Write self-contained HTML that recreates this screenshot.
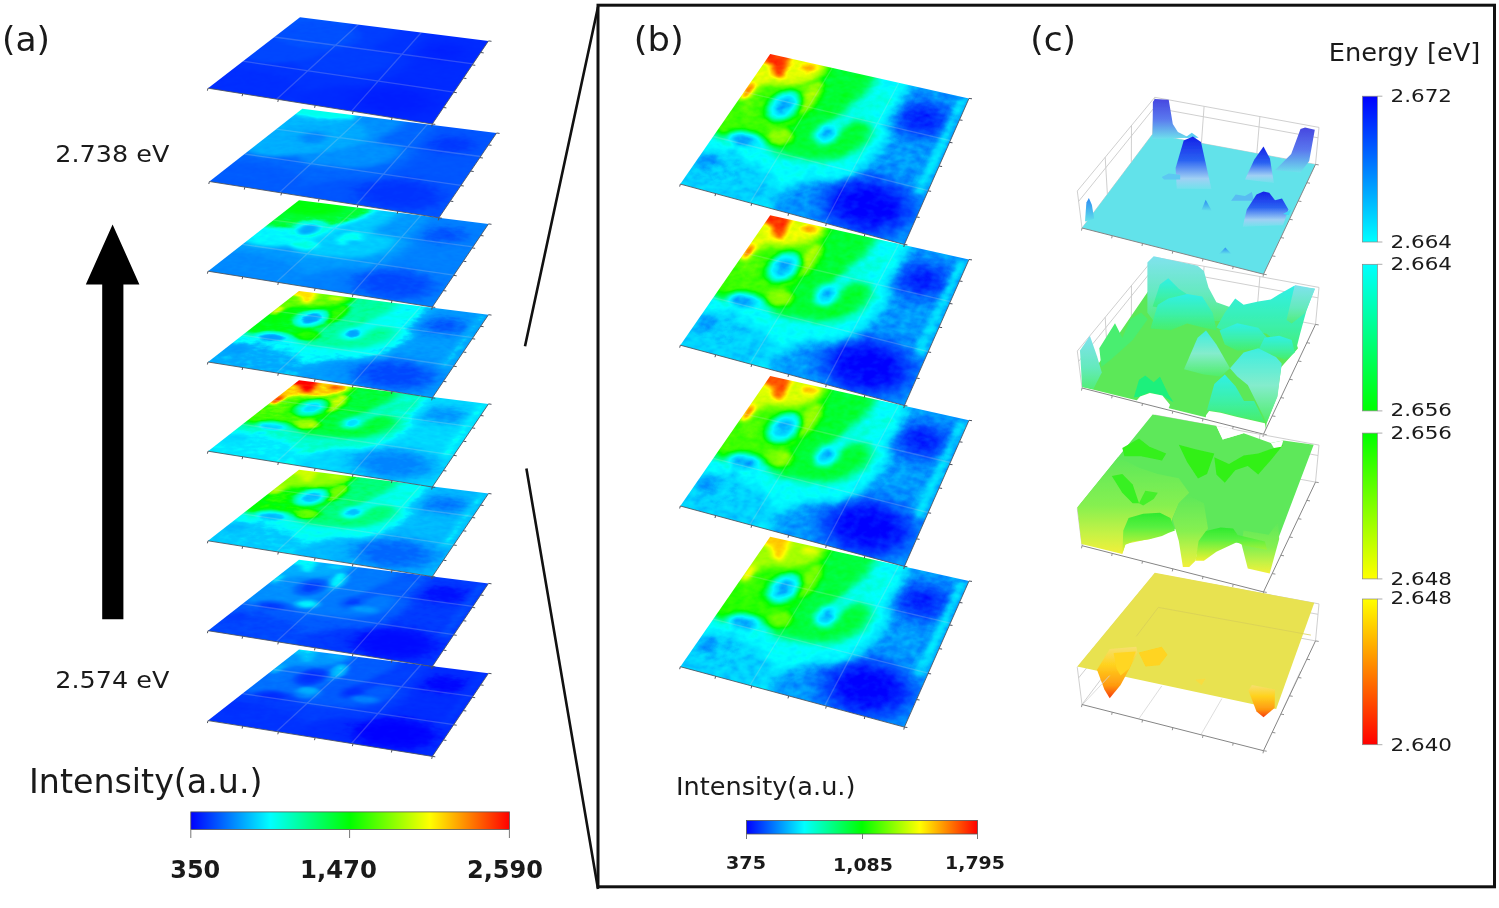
<!DOCTYPE html>
<html><head><meta charset="utf-8"><title>Figure</title>
<style>
html,body{margin:0;padding:0;background:#fff;}
body{width:1499px;height:908px;position:relative;overflow:hidden;font-family:"DejaVu Sans","Liberation Sans",sans-serif;}
.pl{position:absolute;left:0;top:0;width:300px;height:300px;transform-origin:0 0;overflow:hidden;}
.pl svg{display:block}
#ov{position:absolute;left:0;top:0;}
#defs{position:absolute;width:0;height:0;}
text{font-family:"DejaVu Sans","Liberation Sans",sans-serif;fill:#1a1a1a}
</style></head><body>

<svg id="defs" width="0" height="0"><defs>
<filter id="fa0" x="0" y="0" width="100" height="100" filterUnits="userSpaceOnUse" color-interpolation-filters="sRGB"><feTurbulence type="fractalNoise" baseFrequency="0.25" numOctaves="2" seed="1" result="n"/><feColorMatrix in="n" type="matrix" values="1 0 0 0 0 1 0 0 0 0 1 0 0 0 0 0 0 0 0 1" result="n2"/><feComposite in="SourceGraphic" in2="n2" operator="arithmetic" k1="0" k2="1" k3="0.07" k4="-0.035"/><feComponentTransfer><feFuncR type="table" tableValues="0 0 0 0 0 0 0 0 0 0 0 0 0 0 0 0 0 0 0 0 0 0 0 0 0 0 0 0 0 0 0 0 0 0 0 0 0 0 0 0 0 0 0 0 0 0 0 0 0 0 0 0 0 0 0 0 0 0 0 0 0 0 0 0 0"/><feFuncG type="table" tableValues="0.12 0.126 0.133 0.139 0.144 0.149 0.155 0.16 0.164 0.168 0.172 0.175 0.179 0.184 0.19 0.195 0.2 0.203 0.206 0.209 0.212 0.216 0.219 0.222 0.225 0.228 0.231 0.234 0.237 0.241 0.247 0.253 0.258 0.264 0.27 0.275 0.28 0.28 0.28 0.285 0.292 0.3 0.308 0.316 0.324 0.332 0.339 0.344 0.348 0.352 0.356 0.36 0.364 0.368 0.372 0.376 0.38 0.385 0.389 0.393 0.397 0.4 0.4 0.4 0.4"/><feFuncB type="table" tableValues="1 1 1 1 1 1 1 1 1 1 1 1 1 1 1 1 1 1 1 1 1 1 1 1 1 1 1 1 1 1 1 1 1 1 1 1 1 1 1 1 1 1 1 1 1 1 1 1 1 1 1 1 1 1 1 1 1 1 1 1 1 1 1 1 1"/></feComponentTransfer></filter>
<filter id="fa1" x="0" y="0" width="100" height="100" filterUnits="userSpaceOnUse" color-interpolation-filters="sRGB"><feTurbulence type="fractalNoise" baseFrequency="0.25" numOctaves="2" seed="2" result="n"/><feColorMatrix in="n" type="matrix" values="1 0 0 0 0 1 0 0 0 0 1 0 0 0 0 0 0 0 0 1" result="n2"/><feComposite in="SourceGraphic" in2="n2" operator="arithmetic" k1="0" k2="1" k3="0.07" k4="-0.035"/><feComponentTransfer><feFuncR type="table" tableValues="0 0 0 0 0 0 0 0 0 0 0 0 0 0 0 0 0 0 0 0 0 0 0 0 0 0 0 0 0 0 0 0 0 0 0 0 0 0 0 0 0 0 0 0 0 0 0 0 0 0 0 0 0 0 0 0 0 0 0 0 0 0 0 0 0"/><feFuncG type="table" tableValues="0.2 0.212 0.225 0.237 0.257 0.277 0.298 0.319 0.328 0.335 0.343 0.351 0.359 0.369 0.379 0.39 0.4 0.413 0.425 0.438 0.45 0.463 0.475 0.488 0.5 0.513 0.525 0.538 0.55 0.563 0.58 0.598 0.615 0.632 0.649 0.666 0.682 0.698 0.714 0.739 0.77 0.802 0.841 0.88 0.919 0.958 0.997 1 1 1 1 1 1 1 1 1 1 1 1 1 1 1 1 1 1"/><feFuncB type="table" tableValues="1 1 1 1 1 1 1 1 1 1 1 1 1 1 1 1 1 1 1 1 1 1 1 1 1 1 1 1 1 1 1 1 1 1 1 1 1 1 1 1 1 1 1 1 1 1 1 0.985 0.969 0.952 0.936 0.92 0.903 0.887 0.871 0.855 0.838 0.822 0.806 0.789 0.773 0.758 0.745 0.732 0.72"/></feComponentTransfer></filter>
<filter id="fa2" x="0" y="0" width="100" height="100" filterUnits="userSpaceOnUse" color-interpolation-filters="sRGB"><feTurbulence type="fractalNoise" baseFrequency="0.25" numOctaves="2" seed="3" result="n"/><feColorMatrix in="n" type="matrix" values="1 0 0 0 0 1 0 0 0 0 1 0 0 0 0 0 0 0 0 1" result="n2"/><feComposite in="SourceGraphic" in2="n2" operator="arithmetic" k1="0" k2="1" k3="0.07" k4="-0.035"/><feComponentTransfer><feFuncR type="table" tableValues="0 0 0 0 0 0 0 0 0 0 0 0 0 0 0 0 0 0 0 0 0 0 0 0 0 0 0 0 0 0 0 0 0 0 0 0 0 0 0 0 0 0 0 0 0 0 0 0 0 0 0 0 0 0 0 0 0 0.00772 0.0267 0.0458 0.0648 0.085 0.11 0.135 0.16"/><feFuncG type="table" tableValues="0.28 0.305 0.33 0.355 0.385 0.416 0.448 0.479 0.491 0.503 0.515 0.526 0.538 0.553 0.569 0.584 0.6 0.616 0.631 0.647 0.662 0.678 0.694 0.709 0.725 0.741 0.756 0.772 0.788 0.805 0.827 0.85 0.873 0.895 0.918 0.941 0.967 1 1 1 1 1 1 1 1 1 1 1 1 1 1 1 1 1 1 1 1 1 1 1 1 1 1 1 1"/><feFuncB type="table" tableValues="1 1 1 1 1 1 1 1 1 1 1 1 1 1 1 1 1 1 1 1 1 1 1 1 1 1 1 1 1 1 1 1 1 1 1 1 1 0.986 0.939 0.892 0.845 0.795 0.678 0.561 0.444 0.327 0.209 0.182 0.163 0.144 0.125 0.106 0.0874 0.0684 0.0493 0.0303 0.0113 0 0 0 0 0 0 0 0"/></feComponentTransfer></filter>
<filter id="fa3" x="0" y="0" width="100" height="100" filterUnits="userSpaceOnUse" color-interpolation-filters="sRGB"><feTurbulence type="fractalNoise" baseFrequency="0.25" numOctaves="2" seed="4" result="n"/><feColorMatrix in="n" type="matrix" values="1 0 0 0 0 1 0 0 0 0 1 0 0 0 0 0 0 0 0 1" result="n2"/><feComposite in="SourceGraphic" in2="n2" operator="arithmetic" k1="0" k2="1" k3="0.07" k4="-0.035"/><feComponentTransfer><feFuncR type="table" tableValues="0 0 0 0 0 0 0 0 0 0 0 0 0 0 0 0 0 0 0 0 0 0 0 0 0 0 0 0 0 0 0 0 0 0 0 0 0 0 0 0.0281 0.075 0.122 0.177 0.232 0.286 0.341 0.396 0.445 0.494 0.543 0.592 0.641 0.69 0.738 0.787 0.836 0.885 0.934 0.983 1 1 1 1 1 1"/><feFuncG type="table" tableValues="0.28 0.318 0.355 0.393 0.433 0.475 0.517 0.558 0.583 0.606 0.629 0.653 0.676 0.75 0.833 0.917 1 1 1 1 1 1 1 1 1 1 1 1 1 1 1 1 1 1 1 1 1 1 1 1 1 1 1 1 1 1 1 1 1 1 1 1 1 1 1 1 1 1 1 0.968 0.919 0.87 0.82 0.77 0.72"/><feFuncB type="table" tableValues="1 1 1 1 1 1 1 1 1 1 1 1 1 1 1 1 1 0.972 0.944 0.916 0.887 0.859 0.831 0.803 0.775 0.747 0.719 0.691 0.662 0.624 0.545 0.465 0.385 0.306 0.226 0.147 0.075 0.0438 0.0125 0 0 0 0 0 0 0 0 0 0 0 0 0 0 0 0 0 0 0 0 0 0 0 0 0 0"/></feComponentTransfer></filter>
<filter id="fa4" x="0" y="0" width="100" height="100" filterUnits="userSpaceOnUse" color-interpolation-filters="sRGB"><feTurbulence type="fractalNoise" baseFrequency="0.25" numOctaves="2" seed="5" result="n"/><feColorMatrix in="n" type="matrix" values="1 0 0 0 0 1 0 0 0 0 1 0 0 0 0 0 0 0 0 1" result="n2"/><feComposite in="SourceGraphic" in2="n2" operator="arithmetic" k1="0" k2="1" k3="0.07" k4="-0.035"/><feComponentTransfer><feFuncR type="table" tableValues="0 0 0 0 0 0 0 0 0 0 0 0 0 0 0 0 0 0 0 0 0 0 0 0 0 0 0 0 0 0 0 0 0 0.0464 0.115 0.183 0.255 0.349 0.442 0.518 0.58 0.644 0.754 0.863 0.973 1 1 1 1 1 1 1 1 1 1 1 1 1 1 1 1 1 1 1 1"/><feFuncG type="table" tableValues="0.52 0.557 0.595 0.633 0.673 0.715 0.757 0.798 0.823 0.846 0.869 0.893 0.916 0.981 1 1 1 1 1 1 1 1 1 1 1 1 1 1 1 1 1 1 1 1 1 1 1 1 1 1 1 1 1 1 1 0.918 0.809 0.75 0.696 0.641 0.587 0.533 0.478 0.424 0.37 0.315 0.261 0.207 0.152 0.0978 0.0435 0 0 0 0"/><feFuncB type="table" tableValues="1 1 1 1 1 1 1 1 1 1 1 1 1 1 0.946 0.873 0.8 0.756 0.713 0.669 0.625 0.581 0.538 0.494 0.45 0.406 0.363 0.319 0.275 0.226 0.158 0.09 0.0218 0 0 0 0 0 0 0 0 0 0 0 0 0 0 0 0 0 0 0 0 0 0 0 0 0 0 0 0 0 0 0 0"/></feComponentTransfer></filter>
<filter id="fa5" x="0" y="0" width="100" height="100" filterUnits="userSpaceOnUse" color-interpolation-filters="sRGB"><feTurbulence type="fractalNoise" baseFrequency="0.25" numOctaves="2" seed="6" result="n"/><feColorMatrix in="n" type="matrix" values="1 0 0 0 0 1 0 0 0 0 1 0 0 0 0 0 0 0 0 1" result="n2"/><feComposite in="SourceGraphic" in2="n2" operator="arithmetic" k1="0" k2="1" k3="0.07" k4="-0.035"/><feComponentTransfer><feFuncR type="table" tableValues="0 0 0 0 0 0 0 0 0 0 0 0 0 0 0 0 0 0 0 0 0 0 0 0 0 0 0 0 0 0 0 0 0 0 0 0 0.015 0.109 0.203 0.278 0.34 0.401 0.433 0.464 0.495 0.526 0.558 0.575 0.591 0.608 0.624 0.64 0.657 0.673 0.689 0.705 0.722 0.738 0.754 0.771 0.787 0.805 0.83 0.855 0.88"/><feFuncG type="table" tableValues="0.4 0.438 0.475 0.512 0.553 0.595 0.637 0.678 0.703 0.726 0.749 0.773 0.796 0.853 0.915 0.978 1 1 1 1 1 1 1 1 1 1 1 1 1 1 1 1 1 1 1 1 1 1 1 1 1 1 1 1 1 1 1 1 1 1 1 1 1 1 1 1 1 1 1 1 1 1 1 1 1"/><feFuncB type="table" tableValues="1 1 1 1 1 1 1 1 1 1 1 1 1 1 1 1 0.96 0.922 0.885 0.847 0.81 0.772 0.735 0.698 0.66 0.623 0.585 0.547 0.51 0.466 0.398 0.33 0.262 0.194 0.125 0.0573 0 0 0 0 0 0 0 0 0 0 0 0 0 0 0 0 0 0 0 0 0 0 0 0 0 0 0 0 0"/></feComponentTransfer></filter>
<filter id="fa6" x="0" y="0" width="100" height="100" filterUnits="userSpaceOnUse" color-interpolation-filters="sRGB"><feTurbulence type="fractalNoise" baseFrequency="0.25" numOctaves="2" seed="7" result="n"/><feColorMatrix in="n" type="matrix" values="1 0 0 0 0 1 0 0 0 0 1 0 0 0 0 0 0 0 0 1" result="n2"/><feComposite in="SourceGraphic" in2="n2" operator="arithmetic" k1="0" k2="1" k3="0.07" k4="-0.035"/><feComponentTransfer><feFuncR type="table" tableValues="0 0 0 0 0 0 0 0 0 0 0 0 0 0 0 0 0 0 0 0 0 0 0 0 0 0 0 0 0 0 0 0 0 0 0 0 0 0 0 0 0 0 0 0 0 0 0 0 0 0 0 0 0 0 0 0 0 0 0 0 0 0 0 0 0"/><feFuncG type="table" tableValues="0.04 0.0525 0.065 0.0775 0.105 0.136 0.168 0.199 0.215 0.231 0.246 0.262 0.278 0.298 0.318 0.339 0.36 0.369 0.379 0.388 0.397 0.407 0.416 0.426 0.435 0.444 0.454 0.463 0.472 0.482 0.494 0.505 0.516 0.528 0.539 0.55 0.562 0.578 0.594 0.609 0.625 0.64 0.648 0.656 0.664 0.672 0.679 0.698 0.717 0.736 0.755 0.774 0.793 0.812 0.831 0.85 0.869 0.888 0.907 0.926 0.945 0.983 1 1 1"/><feFuncB type="table" tableValues="1 1 1 1 1 1 1 1 1 1 1 1 1 1 1 1 1 1 1 1 1 1 1 1 1 1 1 1 1 1 1 1 1 1 1 1 1 1 1 1 1 1 1 1 1 1 1 1 1 1 1 1 1 1 1 1 1 1 1 1 1 1 0.905 0.792 0.68"/></feComponentTransfer></filter>
<filter id="fa7" x="0" y="0" width="100" height="100" filterUnits="userSpaceOnUse" color-interpolation-filters="sRGB"><feTurbulence type="fractalNoise" baseFrequency="0.25" numOctaves="2" seed="8" result="n"/><feColorMatrix in="n" type="matrix" values="1 0 0 0 0 1 0 0 0 0 1 0 0 0 0 0 0 0 0 1" result="n2"/><feComposite in="SourceGraphic" in2="n2" operator="arithmetic" k1="0" k2="1" k3="0.07" k4="-0.035"/><feComponentTransfer><feFuncR type="table" tableValues="0 0 0 0 0 0 0 0 0 0 0 0 0 0 0 0 0 0 0 0 0 0 0 0 0 0 0 0 0 0 0 0 0 0 0 0 0 0 0 0 0 0 0 0 0 0 0 0 0 0 0 0 0 0 0 0 0 0 0 0 0 0 0 0 0"/><feFuncG type="table" tableValues="0 0.0125 0.025 0.0375 0.065 0.0963 0.128 0.159 0.168 0.175 0.183 0.191 0.199 0.209 0.219 0.23 0.24 0.249 0.259 0.268 0.277 0.287 0.296 0.306 0.315 0.324 0.334 0.343 0.352 0.362 0.374 0.385 0.396 0.408 0.419 0.43 0.442 0.458 0.474 0.489 0.505 0.521 0.536 0.552 0.568 0.583 0.599 0.61 0.621 0.632 0.643 0.653 0.664 0.675 0.686 0.697 0.708 0.719 0.73 0.74 0.751 0.78 0.88 0.98 1"/><feFuncB type="table" tableValues="1 1 1 1 1 1 1 1 1 1 1 1 1 1 1 1 1 1 1 1 1 1 1 1 1 1 1 1 1 1 1 1 1 1 1 1 1 1 1 1 1 1 1 1 1 1 1 1 1 1 1 1 1 1 1 1 1 1 1 1 1 1 1 1 0.92"/></feComponentTransfer></filter>
<filter id="fb0" x="0" y="0" width="100" height="100" filterUnits="userSpaceOnUse" color-interpolation-filters="sRGB"><feTurbulence type="fractalNoise" baseFrequency="0.25" numOctaves="2" seed="11" result="n"/><feColorMatrix in="n" type="matrix" values="1 0 0 0 0 1 0 0 0 0 1 0 0 0 0 0 0 0 0 1" result="n2"/><feComposite in="SourceGraphic" in2="n2" operator="arithmetic" k1="0" k2="1" k3="0.07" k4="-0.035"/><feComponentTransfer><feFuncR type="table" tableValues="0 0 0 0 0 0 0 0 0 0 0 0 0 0 0 0 0 0 0 0 0 0 0 0 0 0 0 0 0 0 0 0 0 0.0625 0.125 0.188 0.25 0.312 0.375 0.438 0.5 0.562 0.625 0.688 0.75 0.812 0.875 0.938 1 1 1 1 1 1 1 1 1 1 1 1 1 1 1 1 1"/><feFuncG type="table" tableValues="0 0.0625 0.125 0.188 0.25 0.312 0.375 0.438 0.515 0.593 0.671 0.749 0.827 0.875 0.917 0.958 1 1 1 1 1 1 1 1 1 1 1 1 1 1 1 1 1 1 1 1 1 1 1 1 1 1 1 1 1 1 1 1 1 0.938 0.875 0.812 0.75 0.688 0.625 0.562 0.5 0.438 0.375 0.312 0.25 0.188 0.125 0.0625 0"/><feFuncB type="table" tableValues="1 1 1 1 1 1 1 1 1 1 1 1 1 1 1 1 1 0.938 0.875 0.812 0.75 0.688 0.625 0.562 0.5 0.438 0.375 0.312 0.25 0.188 0.125 0.0625 0 0 0 0 0 0 0 0 0 0 0 0 0 0 0 0 0 0 0 0 0 0 0 0 0 0 0 0 0 0 0 0 0"/></feComponentTransfer></filter>
<filter id="fb1" x="0" y="0" width="100" height="100" filterUnits="userSpaceOnUse" color-interpolation-filters="sRGB"><feTurbulence type="fractalNoise" baseFrequency="0.25" numOctaves="2" seed="12" result="n"/><feColorMatrix in="n" type="matrix" values="1 0 0 0 0 1 0 0 0 0 1 0 0 0 0 0 0 0 0 1" result="n2"/><feComposite in="SourceGraphic" in2="n2" operator="arithmetic" k1="0" k2="1" k3="0.07" k4="-0.035"/><feComponentTransfer><feFuncR type="table" tableValues="0 0 0 0 0 0 0 0 0 0 0 0 0 0 0 0 0 0 0 0 0 0 0 0 0 0 0 0 0 0 0 0 0 0.0625 0.125 0.188 0.25 0.312 0.375 0.438 0.5 0.562 0.625 0.688 0.75 0.812 0.875 0.938 1 1 1 1 1 1 1 1 1 1 1 1 1 1 1 1 1"/><feFuncG type="table" tableValues="0 0.0625 0.125 0.188 0.25 0.312 0.375 0.438 0.515 0.593 0.671 0.749 0.827 0.875 0.917 0.958 1 1 1 1 1 1 1 1 1 1 1 1 1 1 1 1 1 1 1 1 1 1 1 1 1 1 1 1 1 1 1 1 1 0.938 0.875 0.812 0.75 0.688 0.625 0.562 0.5 0.438 0.375 0.312 0.25 0.188 0.125 0.0625 0"/><feFuncB type="table" tableValues="1 1 1 1 1 1 1 1 1 1 1 1 1 1 1 1 1 0.938 0.875 0.812 0.75 0.688 0.625 0.562 0.5 0.438 0.375 0.312 0.25 0.188 0.125 0.0625 0 0 0 0 0 0 0 0 0 0 0 0 0 0 0 0 0 0 0 0 0 0 0 0 0 0 0 0 0 0 0 0 0"/></feComponentTransfer></filter>
<filter id="fb2" x="0" y="0" width="100" height="100" filterUnits="userSpaceOnUse" color-interpolation-filters="sRGB"><feTurbulence type="fractalNoise" baseFrequency="0.25" numOctaves="2" seed="13" result="n"/><feColorMatrix in="n" type="matrix" values="1 0 0 0 0 1 0 0 0 0 1 0 0 0 0 0 0 0 0 1" result="n2"/><feComposite in="SourceGraphic" in2="n2" operator="arithmetic" k1="0" k2="1" k3="0.07" k4="-0.035"/><feComponentTransfer><feFuncR type="table" tableValues="0 0 0 0 0 0 0 0 0 0 0 0 0 0 0 0 0 0 0 0 0 0 0 0 0 0 0 0 0 0 0 0 0 0.0625 0.125 0.188 0.25 0.312 0.375 0.428 0.475 0.522 0.585 0.647 0.71 0.772 0.835 0.893 0.95 1 1 1 1 1 1 1 1 1 1 1 1 1 1 1 1"/><feFuncG type="table" tableValues="0 0.0625 0.125 0.188 0.25 0.312 0.375 0.438 0.515 0.593 0.671 0.749 0.827 0.875 0.917 0.958 1 1 1 1 1 1 1 1 1 1 1 1 1 1 1 1 1 1 1 1 1 1 1 1 1 1 1 1 1 1 1 1 1 0.993 0.936 0.879 0.822 0.765 0.708 0.651 0.594 0.537 0.48 0.423 0.366 0.307 0.245 0.183 0.12"/><feFuncB type="table" tableValues="1 1 1 1 1 1 1 1 1 1 1 1 1 1 1 1 1 0.938 0.875 0.812 0.75 0.688 0.625 0.562 0.5 0.438 0.375 0.312 0.25 0.188 0.125 0.0625 0 0 0 0 0 0 0 0 0 0 0 0 0 0 0 0 0 0 0 0 0 0 0 0 0 0 0 0 0 0 0 0 0"/></feComponentTransfer></filter>
<filter id="fb3" x="0" y="0" width="100" height="100" filterUnits="userSpaceOnUse" color-interpolation-filters="sRGB"><feTurbulence type="fractalNoise" baseFrequency="0.25" numOctaves="2" seed="14" result="n"/><feColorMatrix in="n" type="matrix" values="1 0 0 0 0 1 0 0 0 0 1 0 0 0 0 0 0 0 0 1" result="n2"/><feComposite in="SourceGraphic" in2="n2" operator="arithmetic" k1="0" k2="1" k3="0.07" k4="-0.035"/><feComponentTransfer><feFuncR type="table" tableValues="0 0 0 0 0 0 0 0 0 0 0 0 0 0 0 0 0 0 0 0 0 0 0 0 0 0 0 0 0 0 0 0 0 0 0.0555 0.112 0.167 0.214 0.261 0.308 0.355 0.402 0.449 0.496 0.542 0.589 0.636 0.675 0.713 0.751 0.789 0.827 0.865 0.903 0.941 0.979 1 1 1 1 1 1 1 1 1"/><feFuncG type="table" tableValues="0 0.0625 0.125 0.188 0.25 0.312 0.375 0.438 0.515 0.593 0.671 0.749 0.827 0.875 0.917 0.958 1 1 1 1 1 1 1 1 1 1 1 1 1 1 1 1 1 1 1 1 1 1 1 1 1 1 1 1 1 1 1 1 1 1 1 1 1 1 1 1 0.983 0.945 0.907 0.868 0.83 0.79 0.74 0.69 0.64"/><feFuncB type="table" tableValues="1 1 1 1 1 1 1 1 1 1 1 1 1 1 1 1 1 0.941 0.881 0.822 0.762 0.703 0.644 0.584 0.525 0.466 0.406 0.347 0.288 0.229 0.172 0.115 0.0582 0.00136 0 0 0 0 0 0 0 0 0 0 0 0 0 0 0 0 0 0 0 0 0 0 0 0 0 0 0 0 0 0 0"/></feComponentTransfer></filter>
<filter id="bl3" x="-20" y="-20" width="140" height="140" filterUnits="userSpaceOnUse" color-interpolation-filters="sRGB"><feGaussianBlur stdDeviation="2.5"/></filter>
<filter id="bl5" x="-20" y="-20" width="140" height="140" filterUnits="userSpaceOnUse" color-interpolation-filters="sRGB"><feGaussianBlur stdDeviation="5.5"/></filter>
<filter id="bl2" x="-20" y="-20" width="140" height="140" filterUnits="userSpaceOnUse" color-interpolation-filters="sRGB"><feGaussianBlur stdDeviation="1.6"/></filter>
<g id="patb"><rect x="-10" y="-10" width="120" height="120" fill="#252525"/><g filter="url(#bl5)"><ellipse cx="79" cy="84" rx="18" ry="16" fill="#000000"/><ellipse cx="84" cy="22" rx="11" ry="12" fill="#050505"/></g><g filter="url(#bl3)"><path d="M-8 -8L71 -8L71 18L70 31L74 39L72 53L68 67L61 75L52 77L48 81L43 86L40 94L43 108L-8 108Z" fill="#404040"/><ellipse cx="10" cy="92" rx="30" ry="17" fill="#303030"/><path d="M-8 -8L55 -8L54 14L50 25L53 33L63 33L66 40L65 50L59 60L51 65L44 66L38 67L32 68L26 64L22 57L17 53L12 54L7 61L-8 64Z" fill="#737373"/><ellipse cx="8" cy="30" rx="25" ry="36" fill="#8f8f8f"/><path d="M-8 -8L30 -8L30 9L24 16L16 21L8 22L3 30L-8 32Z" fill="#b8b8b8"/></g></g><g id="patd" filter="url(#bl2)"><path d="M97.5 2L96.5 70" stroke="#404040" stroke-width="2.4" fill="none"/><path d="M-8 -8L9 -8L12 8L12.5 17L8 15L4 8L-8 5Z" fill="#f2f2f2"/><ellipse cx="1.5" cy="31" rx="1.8" ry="6.5" fill="#f2f2f2"/><ellipse cx="22" cy="4" rx="4" ry="3" fill="#d6d6d6"/><ellipse cx="30.5" cy="25" rx="4" ry="13" fill="#a8a8a8"/><ellipse cx="6" cy="40" rx="4" ry="7" fill="#949494"/><ellipse cx="28" cy="56" rx="6" ry="6" fill="#a3a3a3"/><path d="M47 46L51 34L57 24L64 14" stroke="#474747" stroke-width="7.5" fill="none" stroke-linecap="round"/><ellipse cx="21.5" cy="35" rx="7.5" ry="12" fill="#454545"/><ellipse cx="21.5" cy="35" rx="4" ry="7" fill="#292929"/><ellipse cx="47" cy="46.5" rx="5.5" ry="8.5" fill="#424242"/><ellipse cx="47" cy="46.5" rx="3" ry="5" fill="#292929"/><ellipse cx="14" cy="64" rx="9" ry="6.5" fill="#424242"/><ellipse cx="14" cy="64.5" rx="6" ry="3.8" fill="#262626"/><path d="M12 70L15 90" stroke="#303030" stroke-width="3" fill="none"/><ellipse cx="5" cy="83" rx="4.5" ry="6" fill="#262626"/></g><g id="pat"><use href="#patb"/><use href="#patd"/></g>
<g id="grid" stroke="#c4c8d4" stroke-opacity="0.45" stroke-width="0.5" fill="none"><path d="M32.5 0V100M66 0V100M0 31H100M0 66H100"/></g>
</defs></svg>
<div class="pl" style="transform:matrix3d(0.5159014,-0.08055942,0,-0.0002369812,-0.423254,-0.1787894,0,-0.0005765419,0,0,1,0,299,649.6,0,1)"><svg viewBox="0 0 100 100" width="300" height="300" preserveAspectRatio="none"><g filter="url(#fa7)"><use href="#pat"/><g filter="url(#bl2)"><ellipse cx="31" cy="22" rx="3" ry="9" fill="#f6f6f6" transform="rotate(-12 31 22)"/><ellipse cx="27" cy="52" rx="5" ry="4" fill="#d8d8d8"/><ellipse cx="55" cy="53" rx="7" ry="4" fill="#a2a2a2"/></g></g></svg></div>
<div class="pl" style="transform:matrix3d(0.5159014,-0.05925481,0,-0.0002369812,-0.423254,-0.1269583,0,-0.0005765419,0,0,1,0,299,559.7,0,1)"><svg viewBox="0 0 100 100" width="300" height="300" preserveAspectRatio="none"><g filter="url(#fa6)"><use href="#pat"/><g filter="url(#bl2)"><ellipse cx="30" cy="21" rx="3.2" ry="11" fill="#f4f4f4" transform="rotate(-12 30 21)"/><ellipse cx="28" cy="56" rx="5" ry="4.5" fill="#eee"/><ellipse cx="55" cy="53" rx="7" ry="4" fill="#9a9a9a"/></g></g></svg></div>
<div class="pl" style="transform:matrix3d(0.5159014,-0.0379502,0,-0.0002369812,-0.423254,-0.07512718,0,-0.0005765419,0,0,1,0,299,469.8,0,1)"><svg viewBox="0 0 100 100" width="300" height="300" preserveAspectRatio="none"><g filter="url(#fa5)"><use href="#pat"/></g></svg></div>
<div class="pl" style="transform:matrix3d(0.5159014,-0.01671669,0,-0.0002369812,-0.423254,-0.02346902,0,-0.0005765419,0,0,1,0,299,380.2,0,1)"><svg viewBox="0 0 100 100" width="300" height="300" preserveAspectRatio="none"><g filter="url(#fa4)"><use href="#pat"/></g></svg></div>
<div class="pl" style="transform:matrix3d(0.5159014,0.004422029,0,-0.0002369812,-0.423254,0.02795851,0,-0.0005765419,0,0,1,0,299,291,0,1)"><svg viewBox="0 0 100 100" width="300" height="300" preserveAspectRatio="none"><g filter="url(#fa3)"><use href="#pat"/></g></svg></div>
<div class="pl" style="transform:matrix3d(0.5159014,0.02593992,0,-0.0002369812,-0.423254,0.08030851,0,-0.0005765419,0,0,1,0,299,200.2,0,1)"><svg viewBox="0 0 100 100" width="300" height="300" preserveAspectRatio="none"><g filter="url(#fa2)"><use href="#patb"/><g filter="url(#bl3)"><ellipse cx="0" cy="0" rx="42" ry="42" fill="#b8b8b8"/><ellipse cx="8" cy="6" rx="18" ry="14" fill="#d8d8d8"/></g><g filter="url(#bl2)"><ellipse cx="21" cy="36" rx="9" ry="12" fill="#a0a0a0"/><ellipse cx="21" cy="38" rx="4.5" ry="7" fill="#505050"/><ellipse cx="27" cy="57" rx="7" ry="6" fill="#9a9a9a"/><ellipse cx="44" cy="42" rx="6" ry="9" fill="#969696"/><ellipse cx="47" cy="47" rx="2.5" ry="4" fill="#686868"/></g></g></svg></div>
<div class="pl" style="transform:matrix3d(0.5325411,0.0498336,0,-0.0002318275,-0.4289287,0.1389615,0,-0.0005695415,0,0,1,0,302.3,108.8,0,1)"><svg viewBox="0 0 100 100" width="300" height="300" preserveAspectRatio="none"><g filter="url(#fa1)"><use href="#patb"/><g filter="url(#bl3)"><ellipse cx="15" cy="30" rx="30" ry="26" fill="#909090" fill-opacity="0.8"/><ellipse cx="10" cy="2" rx="17" ry="8" fill="#c8c8c8"/><ellipse cx="21" cy="36" rx="6" ry="8" fill="#6a6a6a"/></g></g></svg></div>
<div class="pl" style="transform:matrix3d(0.5153908,0.06954381,0,-0.0002312027,-0.4293773,0.1846326,0,-0.0005899551,0,0,1,0,300,17.2,0,1)"><svg viewBox="0 0 100 100" width="300" height="300" preserveAspectRatio="none"><g filter="url(#fa0)"><use href="#patb"/><g filter="url(#bl3)"><ellipse cx="18" cy="22" rx="22" ry="20" fill="#aaa"/></g></g></svg></div>
<div class="pl" style="transform:matrix3d(0.4793282,0.03773926,0,-0.0001892038,-0.5927813,0.1460785,0,-0.0004308608,0,0,1,0,770.2,536.7,0,1)"><svg viewBox="0 0 100 100" width="300" height="300" preserveAspectRatio="none"><g filter="url(#fb3)"><use href="#pat"/></g></svg></div>
<div class="pl" style="transform:matrix3d(0.4793282,0.06814431,0,-0.0001892038,-0.5927813,0.2153178,0,-0.0004308608,0,0,1,0,770.2,376,0,1)"><svg viewBox="0 0 100 100" width="300" height="300" preserveAspectRatio="none"><g filter="url(#fb2)"><use href="#pat"/></g></svg></div>
<div class="pl" style="transform:matrix3d(0.4793282,0.09856828,0,-0.0001892038,-0.5927813,0.2846002,0,-0.0004308608,0,0,1,0,770.2,215.2,0,1)"><svg viewBox="0 0 100 100" width="300" height="300" preserveAspectRatio="none"><g filter="url(#fb1)"><use href="#pat"/></g></svg></div>
<div class="pl" style="transform:matrix3d(0.4793282,0.129049,0,-0.0001892038,-0.5927813,0.3540119,0,-0.0004308608,0,0,1,0,770.2,54.1,0,1)"><svg viewBox="0 0 100 100" width="300" height="300" preserveAspectRatio="none"><g filter="url(#fb0)"><use href="#pat"/></g></svg></div>
<svg id="ov" width="1499" height="908" viewBox="0 0 1499 908">
<defs>
<linearGradient id="cbH" x1="0" x2="1" y1="0" y2="0"><stop offset="0" stop-color="#0000ff"/><stop offset="0.25" stop-color="#00ffff"/><stop offset="0.5" stop-color="#00ff00"/><stop offset="0.75" stop-color="#ffff00"/><stop offset="1" stop-color="#ff0000"/></linearGradient>
<linearGradient id="cb1" x1="0" x2="0" y1="0" y2="1"><stop offset="0" stop-color="#0000ff"/><stop offset="1" stop-color="#00ffff"/></linearGradient>
<linearGradient id="cb2" x1="0" x2="0" y1="0" y2="1"><stop offset="0" stop-color="#00ffff"/><stop offset="1" stop-color="#00ff00"/></linearGradient>
<linearGradient id="cb3" x1="0" x2="0" y1="0" y2="1"><stop offset="0" stop-color="#00ff00"/><stop offset="1" stop-color="#ffff00"/></linearGradient>
<linearGradient id="cb4" x1="0" x2="0" y1="0" y2="1"><stop offset="0" stop-color="#ffff00"/><stop offset="1" stop-color="#ff0000"/></linearGradient>
</defs>

<path d="M358.3 24.5L276.6 99.2M421.3 32.5L351.5 111.1M274.3 37.0L473.0 63.8M242.9 61.2L453.9 92.1" stroke="#dcdcdc" stroke-opacity="0.22" stroke-width="1.3" fill="none"/><path d="M208.0 88.2L432.3 124.0L488.5 40.9" fill="none" stroke="#4c515c" stroke-width="0.85"/><path d="M208.0 88.2l-0.6 2.5M488.5 40.9l3 0.4M242.7 93.7l-0.6 2.5M480.7 52.5l3 0.4M278.4 99.4l-0.6 2.5M472.3 64.9l3 0.4M315.2 105.3l-0.6 2.5M463.4 78.1l3 0.4M353.1 111.4l-0.6 2.5M453.8 92.3l3 0.4M392.1 117.6l-0.6 2.5M443.4 107.5l3 0.4M432.3 124.0l-0.6 2.5M432.3 124.0l3 0.4" stroke="#4c515c" stroke-width="1" fill="none"/>
<path d="M362.4 116.3L279.6 192.6M427.4 124.4L356.3 204.7M276.2 129.2L480.6 156.5M244.5 154.0L460.9 185.4" stroke="#dcdcdc" stroke-opacity="0.22" stroke-width="1.3" fill="none"/><path d="M209.4 181.5L438.9 217.8L496.6 133.0" fill="none" stroke="#4c515c" stroke-width="0.85"/><path d="M209.4 181.5l-0.6 2.5M496.6 133.0l3 0.4M244.9 187.1l-0.6 2.5M488.5 144.9l3 0.4M281.5 192.9l-0.6 2.5M479.9 157.6l3 0.4M319.1 198.9l-0.6 2.5M470.7 171.1l3 0.4M357.9 205.0l-0.6 2.5M460.8 185.6l3 0.4M397.8 211.3l-0.6 2.5M450.3 201.1l3 0.4M438.9 217.8l-0.6 2.5M438.9 217.8l3 0.4" stroke="#4c515c" stroke-width="1" fill="none"/>
<path d="M357.6 207.5L276.5 282.1M420.9 215.4L351.5 294.1M273.5 220.1L472.9 246.9M242.4 244.3L453.8 275.2" stroke="#dcdcdc" stroke-opacity="0.22" stroke-width="1.3" fill="none"/><path d="M208.0 271.2L432.3 307.0L488.5 223.9" fill="none" stroke="#4c515c" stroke-width="0.85"/><path d="M208.0 271.2l-0.6 2.5M488.5 223.9l3 0.4M242.7 276.7l-0.6 2.5M480.6 235.5l3 0.4M278.4 282.4l-0.6 2.5M472.2 247.9l3 0.4M315.1 288.3l-0.6 2.5M463.3 261.2l3 0.4M353.0 294.3l-0.6 2.5M453.7 275.4l3 0.4M392.0 300.6l-0.6 2.5M443.4 290.6l3 0.4M432.3 307.0l-0.6 2.5M432.3 307.0l3 0.4" stroke="#4c515c" stroke-width="1" fill="none"/>
<path d="M357.6 298.3L276.5 372.9M420.9 306.2L351.5 384.9M273.5 310.9L472.9 337.7M242.4 335.1L453.8 366.0" stroke="#dcdcdc" stroke-opacity="0.22" stroke-width="1.3" fill="none"/><path d="M208.0 362.0L432.3 397.8L488.5 314.7" fill="none" stroke="#4c515c" stroke-width="0.85"/><path d="M208.0 362.0l-0.6 2.5M488.5 314.7l3 0.4M242.7 367.5l-0.6 2.5M480.6 326.3l3 0.4M278.4 373.2l-0.6 2.5M472.2 338.7l3 0.4M315.1 379.1l-0.6 2.5M463.3 352.0l3 0.4M353.0 385.1l-0.6 2.5M453.7 366.2l3 0.4M392.0 391.4l-0.6 2.5M443.4 381.4l3 0.4M432.3 397.8l-0.6 2.5M432.3 397.8l3 0.4" stroke="#4c515c" stroke-width="1" fill="none"/>
<path d="M357.6 387.5L276.5 462.1M420.9 395.4L351.5 474.1M273.5 400.1L472.9 426.9M242.4 424.3L453.8 455.2" stroke="#dcdcdc" stroke-opacity="0.22" stroke-width="1.3" fill="none"/><path d="M208.0 451.2L432.3 487.0L488.5 403.9" fill="none" stroke="#4c515c" stroke-width="0.85"/><path d="M208.0 451.2l-0.6 2.5M488.5 403.9l3 0.4M242.7 456.7l-0.6 2.5M480.6 415.5l3 0.4M278.4 462.4l-0.6 2.5M472.2 427.9l3 0.4M315.1 468.3l-0.6 2.5M463.3 441.2l3 0.4M353.0 474.3l-0.6 2.5M453.7 455.4l3 0.4M392.0 480.6l-0.6 2.5M443.4 470.6l3 0.4M432.3 487.0l-0.6 2.5M432.3 487.0l3 0.4" stroke="#4c515c" stroke-width="1" fill="none"/>
<path d="M357.6 477.1L276.5 551.7M420.9 485.0L351.5 563.7M273.5 489.7L472.9 516.5M242.4 513.9L453.8 544.8" stroke="#dcdcdc" stroke-opacity="0.22" stroke-width="1.3" fill="none"/><path d="M208.0 540.8L432.3 576.6L488.5 493.5" fill="none" stroke="#4c515c" stroke-width="0.85"/><path d="M208.0 540.8l-0.6 2.5M488.5 493.5l3 0.4M242.7 546.3l-0.6 2.5M480.6 505.1l3 0.4M278.4 552.0l-0.6 2.5M472.2 517.5l3 0.4M315.1 557.9l-0.6 2.5M463.3 530.8l3 0.4M353.0 563.9l-0.6 2.5M453.7 545.0l3 0.4M392.0 570.2l-0.6 2.5M443.4 560.2l3 0.4M432.3 576.6l-0.6 2.5M432.3 576.6l3 0.4" stroke="#4c515c" stroke-width="1" fill="none"/>
<path d="M357.6 567.0L276.5 641.6M420.9 574.9L351.5 653.6M273.5 579.6L472.9 606.4M242.4 603.8L453.8 634.7" stroke="#dcdcdc" stroke-opacity="0.22" stroke-width="1.3" fill="none"/><path d="M208.0 630.7L432.3 666.5L488.5 583.4" fill="none" stroke="#4c515c" stroke-width="0.85"/><path d="M208.0 630.7l-0.6 2.5M488.5 583.4l3 0.4M242.7 636.2l-0.6 2.5M480.6 595.0l3 0.4M278.4 641.9l-0.6 2.5M472.2 607.4l3 0.4M315.1 647.8l-0.6 2.5M463.3 620.7l3 0.4M353.0 653.8l-0.6 2.5M453.7 634.9l3 0.4M392.0 660.1l-0.6 2.5M443.4 650.1l3 0.4M432.3 666.5l-0.6 2.5M432.3 666.5l3 0.4" stroke="#4c515c" stroke-width="1" fill="none"/>
<path d="M357.6 656.9L276.5 731.5M420.9 664.8L351.5 743.5M273.5 669.5L472.9 696.3M242.4 693.7L453.8 724.6" stroke="#dcdcdc" stroke-opacity="0.22" stroke-width="1.3" fill="none"/><path d="M208.0 720.6L432.3 756.4L488.5 673.3" fill="none" stroke="#4c515c" stroke-width="0.85"/><path d="M208.0 720.6l-0.6 2.5M488.5 673.3l3 0.4M242.7 726.1l-0.6 2.5M480.6 684.9l3 0.4M278.4 731.8l-0.6 2.5M472.2 697.3l3 0.4M315.1 737.7l-0.6 2.5M463.3 710.6l3 0.4M353.0 743.7l-0.6 2.5M453.7 724.8l3 0.4M392.0 750.0l-0.6 2.5M443.4 740.0l3 0.4M432.3 756.4l-0.6 2.5M432.3 756.4l3 0.4" stroke="#4c515c" stroke-width="1" fill="none"/>
<path d="M832.3 67.9L749.9 202.8M898.8 82.8L824.8 223.0M744.1 91.9L950.3 140.6M713.2 136.5L928.2 190.6" stroke="#dcdcdc" stroke-opacity="0.22" stroke-width="1.3" fill="none"/><path d="M680.3 184.1L904.4 244.5L969.0 98.4" fill="none" stroke="#4c515c" stroke-width="0.85"/><path d="M680.3 184.1l-0.6 2.5M969.0 98.4l3 0.4M715.6 193.6l-0.6 2.5M959.5 119.9l3 0.4M751.7 203.3l-0.6 2.5M949.5 142.4l3 0.4M788.6 213.3l-0.6 2.5M939.1 166.1l3 0.4M826.3 223.5l-0.6 2.5M928.1 190.9l3 0.4M864.9 233.9l-0.6 2.5M916.6 217.0l3 0.4M904.4 244.5l-0.6 2.5M904.4 244.5l3 0.4" stroke="#4c515c" stroke-width="1" fill="none"/>
<path d="M832.3 229.0L749.9 363.9M898.8 243.9L824.8 384.1M744.1 253.0L950.3 301.7M713.2 297.6L928.2 351.7" stroke="#dcdcdc" stroke-opacity="0.22" stroke-width="1.3" fill="none"/><path d="M680.3 345.2L904.4 405.6L969.0 259.5" fill="none" stroke="#4c515c" stroke-width="0.85"/><path d="M680.3 345.2l-0.6 2.5M969.0 259.5l3 0.4M715.6 354.7l-0.6 2.5M959.5 281.0l3 0.4M751.7 364.4l-0.6 2.5M949.5 303.5l3 0.4M788.6 374.4l-0.6 2.5M939.1 327.2l3 0.4M826.3 384.6l-0.6 2.5M928.1 352.0l3 0.4M864.9 395.0l-0.6 2.5M916.6 378.1l3 0.4M904.4 405.6l-0.6 2.5M904.4 405.6l3 0.4" stroke="#4c515c" stroke-width="1" fill="none"/>
<path d="M832.3 389.8L749.9 524.7M898.8 404.7L824.8 544.9M744.1 413.8L950.3 462.5M713.2 458.4L928.2 512.5" stroke="#dcdcdc" stroke-opacity="0.22" stroke-width="1.3" fill="none"/><path d="M680.3 506.0L904.4 566.4L969.0 420.3" fill="none" stroke="#4c515c" stroke-width="0.85"/><path d="M680.3 506.0l-0.6 2.5M969.0 420.3l3 0.4M715.6 515.5l-0.6 2.5M959.5 441.8l3 0.4M751.7 525.2l-0.6 2.5M949.5 464.3l3 0.4M788.6 535.2l-0.6 2.5M939.1 488.0l3 0.4M826.3 545.4l-0.6 2.5M928.1 512.8l3 0.4M864.9 555.8l-0.6 2.5M916.6 538.9l3 0.4M904.4 566.4l-0.6 2.5M904.4 566.4l3 0.4" stroke="#4c515c" stroke-width="1" fill="none"/>
<path d="M832.3 550.5L749.9 685.4M898.8 565.4L824.8 705.6M744.1 574.5L950.3 623.2M713.2 619.1L928.2 673.2" stroke="#dcdcdc" stroke-opacity="0.22" stroke-width="1.3" fill="none"/><path d="M680.3 666.7L904.4 727.1L969.0 581.0" fill="none" stroke="#4c515c" stroke-width="0.85"/><path d="M680.3 666.7l-0.6 2.5M969.0 581.0l3 0.4M715.6 676.2l-0.6 2.5M959.5 602.5l3 0.4M751.7 685.9l-0.6 2.5M949.5 625.0l3 0.4M788.6 695.9l-0.6 2.5M939.1 648.7l3 0.4M826.3 706.1l-0.6 2.5M928.1 673.5l3 0.4M864.9 716.5l-0.6 2.5M916.6 699.6l3 0.4M904.4 727.1l-0.6 2.5M904.4 727.1l3 0.4" stroke="#4c515c" stroke-width="1" fill="none"/>
<!-- box and connector lines -->
<rect x="598" y="5.2" width="896.5" height="881.6" fill="none" stroke="#111" stroke-width="3"/>
<path d="M598 7L525 346.3M526.4 468.5L598 889" stroke="#111" stroke-width="2.6" fill="none"/>
<!-- arrow -->
<path d="M112.6 224.5L139.4 284.4H123.4V619.3H102.2V284.4H85.8Z" fill="#000"/>
<!-- labels -->
<text x="2" y="51.2" font-size="34" textLength="48" lengthAdjust="spacingAndGlyphs">(a)</text>
<text x="633.8" y="51.2" font-size="34" textLength="50" lengthAdjust="spacingAndGlyphs">(b)</text>
<text x="1030.3" y="51.2" font-size="34" textLength="45.7" lengthAdjust="spacingAndGlyphs">(c)</text>
<text x="55.3" y="161.8" font-size="23.6" textLength="114" lengthAdjust="spacingAndGlyphs">2.738 eV</text>
<text x="55.3" y="688.3" font-size="23.6" textLength="114" lengthAdjust="spacingAndGlyphs">2.574 eV</text>
<text x="29" y="793" font-size="34.3" textLength="233.5" lengthAdjust="spacingAndGlyphs">Intensity(a.u.)</text>
<text x="676" y="794.8" font-size="25" textLength="179.5" lengthAdjust="spacingAndGlyphs">Intensity(a.u.)</text>
<text x="1328.8" y="61.3" font-size="25" textLength="151.5" lengthAdjust="spacingAndGlyphs">Energy [eV]</text>
<!-- colorbar a -->
<rect x="190.8" y="811.9" width="318.6" height="17.6" fill="url(#cbH)" stroke="#555" stroke-width="0.8"/>
<path d="M190.8 829.5V838M349.6 829.5V838M509.4 829.5V838" stroke="#777" stroke-width="1"/>
<g font-weight="bold" font-size="24" fill="#111">
<text x="170.3" y="877.5" textLength="50" lengthAdjust="spacingAndGlyphs">350</text>
<text x="300" y="877.5" textLength="77" lengthAdjust="spacingAndGlyphs">1,470</text>
<text x="467" y="877.5" textLength="76" lengthAdjust="spacingAndGlyphs">2,590</text>
</g>
<!-- colorbar b -->
<rect x="746.5" y="820.5" width="231" height="13.5" fill="url(#cbH)" stroke="#555" stroke-width="0.8"/>
<path d="M746.5 834V839M862.5 834V839M977.5 834V839" stroke="#777" stroke-width="1"/>
<g font-weight="bold" font-size="17" fill="#111">
<text x="726" y="869" textLength="40" lengthAdjust="spacingAndGlyphs">375</text>
<text x="833" y="871" textLength="60" lengthAdjust="spacingAndGlyphs">1,085</text>
<text x="945" y="869" textLength="60" lengthAdjust="spacingAndGlyphs">1,795</text>
</g>
<!-- colorbars c -->
<g stroke="#888" stroke-width="0.7">
<rect x="1362.4" y="96.2" width="15" height="145.8" fill="url(#cb1)"/>
<rect x="1362.4" y="264.3" width="15" height="146.6" fill="url(#cb2)"/>
<rect x="1362.4" y="433.1" width="15" height="145.8" fill="url(#cb3)"/>
<rect x="1362.4" y="599" width="15" height="145.7" fill="url(#cb4)"/>
<path d="M1377.4 96.2h5M1377.4 242h5M1377.4 264.3h5M1377.4 410.9h5M1377.4 433.1h5M1377.4 578.9h5M1377.4 599h5M1377.4 744.7h5" fill="none"/>
</g>
<g font-size="17.5" fill="#222">
<text x="1390.5" y="101.6" textLength="61.5" lengthAdjust="spacingAndGlyphs">2.672</text>
<text x="1390.5" y="247.8" textLength="61.5" lengthAdjust="spacingAndGlyphs">2.664</text>
<text x="1390.5" y="270" textLength="61.5" lengthAdjust="spacingAndGlyphs">2.664</text>
<text x="1390.5" y="416.3" textLength="61.5" lengthAdjust="spacingAndGlyphs">2.656</text>
<text x="1390.5" y="438.6" textLength="61.5" lengthAdjust="spacingAndGlyphs">2.656</text>
<text x="1390.5" y="584.7" textLength="61.5" lengthAdjust="spacingAndGlyphs">2.648</text>
<text x="1390.5" y="604" textLength="61.5" lengthAdjust="spacingAndGlyphs">2.648</text>
<text x="1390.5" y="750.6" textLength="61.5" lengthAdjust="spacingAndGlyphs">2.640</text>
</g>

<defs>
<linearGradient id="pkB" x1="0" y1="0" x2="0" y2="1"><stop offset="0" stop-color="#1420e8"/><stop offset="0.45" stop-color="#2a62f2"/><stop offset="0.8" stop-color="#a0d0f4"/><stop offset="1" stop-color="#70e2ec"/></linearGradient>
<linearGradient id="pkV" x1="0" y1="0" x2="0" y2="1"><stop offset="0" stop-color="#4646e0"/><stop offset="0.5" stop-color="#5a78ee"/><stop offset="1" stop-color="#6ee0ec"/></linearGradient>
<linearGradient id="pkS" x1="0" y1="0" x2="0" y2="1"><stop offset="0" stop-color="#2a8af4"/><stop offset="1" stop-color="#62e0ea"/></linearGradient>
<linearGradient id="cg" x1="0" y1="0" x2="0" y2="1"><stop offset="0" stop-color="#30f0e6"/><stop offset="0.55" stop-color="#3cf0a8"/><stop offset="1" stop-color="#48ee68"/></linearGradient>
<linearGradient id="cgp" x1="0" y1="0" x2="0" y2="1"><stop offset="0" stop-color="#3ceee0"/><stop offset="0.5" stop-color="#84eccc"/><stop offset="1" stop-color="#50ee68"/></linearGradient>
<linearGradient id="pcg" x1="0" y1="0" x2="0" y2="1"><stop offset="0" stop-color="#80e2ee"/><stop offset="0.6" stop-color="#64eabc"/><stop offset="1" stop-color="#52ee78"/></linearGradient>
<linearGradient id="gy" x1="0" y1="0" x2="0" y2="1"><stop offset="0" stop-color="#5ee85a"/><stop offset="0.5" stop-color="#86f050"/><stop offset="0.8" stop-color="#c8f244"/><stop offset="1" stop-color="#f2f03a"/></linearGradient>
<linearGradient id="dgy" x1="0" y1="0" x2="0" y2="1"><stop offset="0" stop-color="#2eea2e"/><stop offset="0.35" stop-color="#58f040"/><stop offset="1" stop-color="#ecf232"/></linearGradient>
<linearGradient id="pit" x1="0" y1="0" x2="0" y2="1"><stop offset="0" stop-color="#f6e070"/><stop offset="0.35" stop-color="#ffd21e"/><stop offset="0.75" stop-color="#ff9a10"/><stop offset="1" stop-color="#f83c10"/></linearGradient>
<filter id="cb" x="-5%" y="-5%" width="110%" height="110%"><feGaussianBlur stdDeviation="0.7"/></filter>
<filter id="cb2" x="-5%" y="-5%" width="110%" height="110%"><feGaussianBlur stdDeviation="1.4"/></filter>
</defs>
<g id="c1">
<g fill="none" stroke="#c9c9c9" stroke-width="0.9"><path d="M1077.3 191.0L1154.8 97.3L1319.0 127.4"/><path d="M1082.0 228.0L1152.5 134.3L1315.5 164.4"/><path d="M1082.0 228.0L1077.3 191.0M1152.5 134.3L1154.8 97.3M1315.5 164.4L1319.0 127.4"/><path d="M1131.5 125.4L1131.3 162.4"/><path d="M1204.1 106.3L1201.4 143.3"/><path d="M1105.2 157.3L1107.4 194.3"/><path d="M1259.9 116.6L1256.8 153.6"/><path d="M1078.6 201.4L1154.2 107.7L1318.0 137.8"/></g>
<path d="M1082.0 228.0L1152.5 134.3L1315.5 164.4L1263.5 274.2Z" fill="#62e2ea" />
<g filter="url(#cb)">
<path d="M1152.5 139.0L1152.9 102.0L1154.8 99.0L1168.7 99.7L1172.8 123.9L1177.9 132.0L1189.5 137.8Z" fill="url(#pkV)" />
<path d="M1184.9 137.8L1191.8 132.7L1198.7 137.8Z" fill="#5ccdf2" />
<path d="M1176.8 188.7L1175.6 167.9L1183.7 140.6L1192.9 136.6L1201.0 142.0L1205.2 160.9L1211.4 189.1Z" fill="url(#pkB)" />
<path d="M1161.7 177.1L1168.7 173.6L1180.2 174.8L1180.2 179.4L1164.0 179.4Z" fill="#5cc8f2" />
<path d="M1245.0 179.4L1254.2 159.8L1263.5 146.6L1269.9 158.6L1273.9 182.9Z" fill="url(#pkB)" />
<path d="M1275.0 170.2L1291.2 154.0L1300.5 129.0L1305.1 127.4L1314.8 129.7L1309.2 160.9L1300.5 172.5Z" fill="url(#pkV)" />
<path d="M1231.1 200.7L1235.7 194.5L1245.0 196.1L1251.9 192.1L1253.8 200.7Z" fill="#58bcf2" />
<path d="M1242.7 226.8L1246.8 209.5L1256.5 194.5L1263.5 191.4L1269.2 192.8L1275.0 200.2L1282.0 198.4L1288.4 209.5L1283.1 225.2Z" fill="url(#pkB)" />
<path d="M1283.1 214.1L1291.2 209.5L1288.9 215.3Z" fill="#40d8f6" />
<path d="M1085.0 221.5L1086.4 202.5L1088.9 197.9L1091.9 204.9L1094.2 218.7Z" fill="url(#pkS)" />
<path d="M1201.5 209.9L1205.7 199.8L1211.9 210.9Z" fill="url(#pkS)" />
<path d="M1219.1 253.9L1225.3 247.4L1231.6 253.9Z" fill="url(#pkS)" />
</g>
<path d="M1082.0 228.0L1263.5 274.2L1315.5 164.4" fill="none" stroke="#858585" stroke-width="1"/><path d="M1082.0 228.0l-0.5 2.6M1315.5 164.4l3.2 0.5M1112.2 235.7l-0.5 2.6M1306.8 182.7l3.2 0.5M1142.5 243.4l-0.5 2.6M1298.2 201.0l3.2 0.5M1172.8 251.1l-0.5 2.6M1289.5 219.3l3.2 0.5M1203.0 258.8l-0.5 2.6M1280.8 237.6l3.2 0.5M1233.2 266.5l-0.5 2.6M1272.2 255.9l3.2 0.5M1263.5 274.2l-0.5 2.6M1263.5 274.2l3.2 0.5" fill="none" stroke="#858585" stroke-width="0.9"/>
</g>
<g id="c2">
<g fill="none" stroke="#c9c9c9" stroke-width="0.9"><path d="M1077.3 351.0L1154.8 257.3L1319.0 287.4"/><path d="M1082.0 388.0L1152.5 294.3L1315.5 324.4"/><path d="M1082.0 388.0L1077.3 351.0M1152.5 294.3L1154.8 257.3M1315.5 324.4L1319.0 287.4"/><path d="M1131.5 285.4L1131.3 322.4"/><path d="M1204.1 266.3L1201.4 303.3"/><path d="M1105.2 317.3L1107.4 354.3"/><path d="M1259.9 276.6L1256.8 313.6"/><path d="M1078.6 361.4L1154.2 267.7L1318.0 297.8"/></g>
<path d="M1082.5 387.0L1147.8 291.8L1287.5 319.0L1298.0 348.3L1281.3 367.1L1277.1 396.4L1266.6 423.6L1265.6 432.0Z" fill="#5ce858" />
<g filter="url(#cb)">
<path d="M1147.4 312.7L1147.4 262.5L1153.7 256.3L1197.6 265.7L1203.9 270.9L1208.5 287.6L1216.4 302.3L1231.1 307.5L1231.1 321.1L1153.7 321.1Z" fill="url(#pcg)" />
<path d="M1152.6 306.5L1159.9 284.5L1168.3 278.2L1178.8 288.7L1188.2 295.0L1195.5 304.4L1187.1 312.7Z" fill="url(#cg)" />
<path d="M1099.3 348.3L1115.0 323.2L1122.3 337.8L1130.7 319.0L1141.1 312.7L1147.8 319.0L1132.7 339.9L1111.8 358.8L1101.4 367.1Z" fill="#48ee70" />
<path d="M1082.1 387.0L1080.0 350.4L1089.9 335.8L1097.2 356.7L1101.8 372.4L1093.4 389.1Z" fill="url(#pcg)" />
<path d="M1216.4 327.4L1224.8 312.7L1235.2 298.5L1243.6 304.8L1258.2 301.5L1270.8 299.4L1279.2 294.3L1293.8 286.0L1314.7 288.7L1306.4 310.7L1300.1 333.7L1295.9 350.4L1287.5 359.2L1279.2 344.1L1266.6 333.7L1245.7 329.5L1229.0 333.7Z" fill="url(#cg)" />
<path d="M1286.5 320.1L1294.8 285.1L1315.1 288.7L1305.3 312.7L1291.7 323.6Z" fill="url(#pcg)" />
<path d="M1150.5 328.4L1157.8 304.8L1168.3 298.5L1187.1 293.9L1202.2 296.4L1212.6 312.7L1216.8 330.5L1203.9 327.8L1187.1 323.6L1170.4 330.3Z" fill="url(#cg)" />
<path d="M1219.6 330.5L1237.3 323.2L1258.2 327.8L1267.7 338.3L1259.3 348.7L1237.3 350.8L1224.8 344.5Z" fill="url(#cg)" />
<path d="M1258.2 350.4L1264.5 337.8L1279.2 335.8L1291.7 339.9L1294.8 352.5L1285.4 359.8L1270.8 354.6Z" fill="url(#cg)" />
<path d="M1184.0 369.2L1197.6 337.8L1206.0 330.5L1216.4 344.5L1230.0 368.2L1220.6 376.5L1203.9 374.5Z" fill="url(#cgp)" />
<path d="M1230.0 368.2L1243.6 352.5L1258.2 348.3L1276.0 357.1L1281.7 363.4L1277.5 396.4L1266.6 422.6L1258.2 405.8L1247.8 384.9L1237.3 376.5Z" fill="url(#cgp)" />
<path d="M1207.0 410.0L1214.3 383.9L1224.8 374.5L1235.7 386.4L1244.0 401.0L1254.1 401.0L1264.9 422.6L1237.3 416.3L1220.6 412.1Z" fill="url(#cg)" />
<path d="M1133.8 397.5L1139.0 379.7L1145.3 375.5L1153.7 382.2L1159.9 376.5L1168.7 394.7L1173.5 402.3L1162.0 395.4L1149.5 392.6L1139.0 396.8Z" fill="#1cf07c" />
</g>
<path d="M1137.3 399.8L1140.1 396.4L1149.9 393.1L1162.4 395.6L1170.0 404.8L1168.3 409.0L1136.5 401.0Z" fill="#fff" />
<path d="M1206.0 415.2L1209.1 411.1L1220.6 412.7L1237.3 416.9L1264.9 423.2L1266.6 434.1L1264.5 434.5L1205.5 419.8Z" fill="#fff" />
<path d="M1082.0 388.0L1263.5 434.2L1315.5 324.4" fill="none" stroke="#858585" stroke-width="1"/><path d="M1082.0 388.0l-0.5 2.6M1315.5 324.4l3.2 0.5M1112.2 395.7l-0.5 2.6M1306.8 342.7l3.2 0.5M1142.5 403.4l-0.5 2.6M1298.2 361.0l3.2 0.5M1172.8 411.1l-0.5 2.6M1289.5 379.3l3.2 0.5M1203.0 418.8l-0.5 2.6M1280.8 397.6l3.2 0.5M1233.2 426.5l-0.5 2.6M1272.2 415.9l3.2 0.5M1263.5 434.2l-0.5 2.6M1263.5 434.2l3.2 0.5" fill="none" stroke="#858585" stroke-width="0.9"/>
</g>
<g id="c3">
<g fill="none" stroke="#c9c9c9" stroke-width="0.9"><path d="M1077.3 508.7L1154.8 415.0L1319.0 445.1"/><path d="M1082.0 545.7L1152.5 452.0L1315.5 482.1"/><path d="M1082.0 545.7L1077.3 508.7M1152.5 452.0L1154.8 415.0M1315.5 482.1L1319.0 445.1"/><path d="M1131.5 443.1L1131.3 480.1"/><path d="M1204.1 424.0L1201.4 461.0"/><path d="M1105.2 475.0L1107.4 512.0"/><path d="M1259.9 434.3L1256.8 471.3"/><path d="M1078.6 519.1L1154.2 425.4L1318.0 455.5"/></g>
<path d="M1152.6 414.4L1216.4 425.9L1222.7 439.5L1243.6 433.2L1270.8 443.1L1283.3 440.6L1313.7 444.7L1278.1 538.9L1266.6 549.3L1077.3 507.5Z" fill="#5ee85a" />
<g filter="url(#cb)">
<path d="M1077.3 507.5L1118.1 457.3L1139.0 467.7L1157.8 474.0L1178.8 478.2L1189.2 492.8L1178.8 503.3L1172.5 517.9L1168.3 532.6L1149.5 538.9L1125.4 544.1L1122.3 553.9L1081.5 544.1Z" fill="url(#gy)" />
<path d="M1172.5 519.0L1178.8 503.3L1187.1 494.9L1203.9 503.3L1208.0 528.4L1199.7 541.0L1195.5 560.8L1189.2 567.1L1182.9 567.1L1178.8 541.0Z" fill="url(#gy)" />
<path d="M1241.5 544.1L1243.6 530.5L1268.7 534.7L1278.1 522.1L1279.2 538.9L1269.7 573.4L1247.8 568.6Z" fill="url(#gy)" />
<path d="M1123.3 530.5L1128.6 517.9L1143.2 513.8L1159.9 512.7L1170.4 517.9L1175.0 530.5L1168.3 533.0L1162.0 535.9L1149.5 539.3L1132.7 541.4L1125.4 544.7L1122.3 553.9Z" fill="url(#dgy)" />
<path d="M1198.6 541.0L1206.0 530.9L1220.6 527.4L1233.1 528.4L1237.7 535.1L1264.9 541.4L1267.0 549.7L1243.6 545.6L1237.3 542.0L1216.4 551.8L1203.9 560.8L1195.5 560.8Z" fill="url(#dgy)" />
<path d="M1122.3 447.9L1139.0 438.5L1149.5 446.8L1166.2 453.5L1162.0 460.4L1141.1 456.2L1124.4 456.2Z" fill="#34f01c" />
<path d="M1178.8 444.7L1195.5 449.3L1214.3 453.5L1207.0 474.0L1198.0 478.6L1187.1 461.9Z" fill="#32f018" />
<path d="M1214.3 457.3L1229.0 464.0L1243.6 455.6L1258.2 453.5L1283.3 444.7L1271.2 459.8L1258.2 474.4L1247.8 466.1L1235.2 470.3L1224.8 482.8L1216.4 474.4Z" fill="#32f018" />
<path d="M1111.8 476.1L1122.3 474.0L1132.7 484.5L1139.0 503.3L1132.7 503.3L1122.3 492.8Z" fill="#38f020" />
<path d="M1139.0 503.3L1145.3 490.8L1157.8 492.8L1153.7 499.1L1143.2 505.4Z" fill="#44f02c" />
</g>
<path d="M1216.4 425.9L1222.7 439.5L1243.6 433.2L1229.0 428.0Z" fill="#fff" />
<path d="M1270.8 443.1L1283.3 440.6L1281.3 446.8L1273.9 447.9Z" fill="#fff" />
<path d="M1082.0 545.7L1263.5 591.9L1315.5 482.1" fill="none" stroke="#858585" stroke-width="1"/><path d="M1082.0 545.7l-0.5 2.6M1315.5 482.1l3.2 0.5M1112.2 553.4l-0.5 2.6M1306.8 500.4l3.2 0.5M1142.5 561.1l-0.5 2.6M1298.2 518.7l3.2 0.5M1172.8 568.8l-0.5 2.6M1289.5 537.0l3.2 0.5M1203.0 576.5l-0.5 2.6M1280.8 555.3l3.2 0.5M1233.2 584.2l-0.5 2.6M1272.2 573.6l3.2 0.5M1263.5 591.9l-0.5 2.6M1263.5 591.9l3.2 0.5" fill="none" stroke="#858585" stroke-width="0.9"/>
</g>
<g id="c4">
<g fill="none" stroke="#c9c9c9" stroke-width="0.9"><path d="M1077.3 667.5L1154.8 573.8L1319.0 603.9"/><path d="M1082.0 704.5L1152.5 610.8L1315.5 640.9"/><path d="M1082.0 704.5L1077.3 667.5M1152.5 610.8L1154.8 573.8M1315.5 640.9L1319.0 603.9"/><path d="M1131.5 601.9L1131.3 638.9"/><path d="M1204.1 582.8L1201.4 619.8"/><path d="M1105.2 633.8L1107.4 670.8"/><path d="M1259.9 593.1L1256.8 630.1"/><path d="M1078.6 677.9L1154.2 584.2L1318.0 614.3"/></g>
<path d="M1154.8 572.7L1314.3 602.8L1276.2 709.1L1077.3 666.4Z" fill="#e8e250" />
<path d="M1136.3 636.3L1158.3 607.4L1310.9 635.1" fill="none" stroke="#d8cf58" stroke-width="0.8"/>
<g filter="url(#cb)">
<path d="M1097.0 669.8L1109.7 649.0L1136.3 646.7L1137.5 652.5L1129.4 668.7L1120.6 684.9L1109.7 698.3L1104.4 689.5Z" fill="url(#pit)" />
<path d="M1113.6 652.9L1135.8 651.6L1129.4 668.2L1120.6 675.6L1116.6 668.7Z" fill="#ffd622" />
<path d="M1138.6 652.5L1161.7 646.7L1167.5 654.8L1159.4 665.2L1145.5 666.4Z" fill="#ffd420" />
<path d="M1248.4 690.6L1251.9 684.9L1275.0 689.5L1274.6 708.0L1263.5 717.2L1256.5 711.4Z" fill="url(#pit)" />
<path d="M1195.3 679.8L1205.7 678.4L1201.5 685.3Z" fill="#f8dc40" />
</g>
<path d="M1138.6 719.1L1161.7 686.0M1201.0 734.6L1221.8 698.7M1082.0 705.2L1109.7 675.6M1282.0 711.4L1300.5 671.0" fill="none" stroke="#d4d4d4" stroke-width="0.8"/>
<path d="M1082.0 704.5L1263.5 750.7L1315.5 640.9" fill="none" stroke="#858585" stroke-width="1"/><path d="M1082.0 704.5l-0.5 2.6M1315.5 640.9l3.2 0.5M1112.2 712.2l-0.5 2.6M1306.8 659.2l3.2 0.5M1142.5 719.9l-0.5 2.6M1298.2 677.5l3.2 0.5M1172.8 727.6l-0.5 2.6M1289.5 695.8l3.2 0.5M1203.0 735.3l-0.5 2.6M1280.8 714.1l3.2 0.5M1233.2 743.0l-0.5 2.6M1272.2 732.4l3.2 0.5M1263.5 750.7l-0.5 2.6M1263.5 750.7l3.2 0.5" fill="none" stroke="#858585" stroke-width="0.9"/>
</g>
</svg>
</body></html>
